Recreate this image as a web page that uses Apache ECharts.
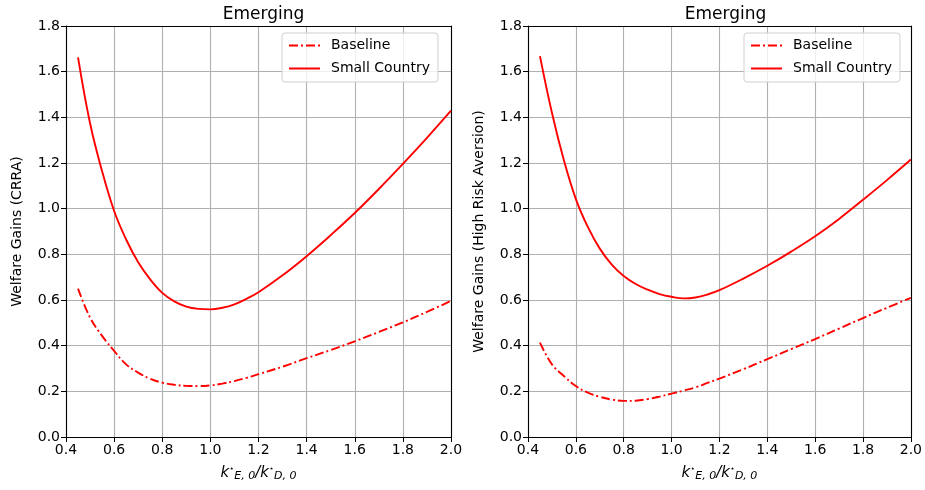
<!DOCTYPE html>
<html>
<head>
<meta charset="utf-8">
<script src="https://cdn.jsdelivr.net/npm/echarts@6/dist/echarts.min.js"></script>
<style>html,body{margin:0;padding:0;background:#fff}#c{width:925px;height:490px}</style>
</head>
<body>
<div id="c"></div>
<script>
// x values (k*_E,0 / k*_D,0)
const xVals = [0.45,0.5,0.55,0.6,0.65,0.7,0.75,0.8,0.85,0.9,0.95,1.0,1.05,1.1,1.15,1.2,1.3,1.4,1.5,1.6,1.7,1.8,1.9,2.0];
// Left panel (CRRA)
const crraBaseline = [0.65,0.523,0.443,0.377,0.318,0.282,0.255,0.238,0.229,0.224,0.223,0.226,0.234,0.245,0.259,0.275,0.308,0.345,0.381,0.419,0.46,0.502,0.548,0.596];
const crraSmall    = [1.663,1.374,1.164,0.99,0.865,0.765,0.69,0.631,0.594,0.571,0.561,0.559,0.566,0.581,0.605,0.634,0.708,0.792,0.884,0.981,1.086,1.196,1.31,1.429];
// Right panel (High Risk Aversion)
const hraBaseline = [0.413,0.318,0.267,0.223,0.194,0.176,0.164,0.158,0.159,0.166,0.177,0.19,0.203,0.217,0.237,0.256,0.297,0.341,0.385,0.429,0.475,0.521,0.566,0.609];
const hraSmall    = [1.668,1.42,1.212,1.042,0.92,0.825,0.755,0.705,0.67,0.645,0.626,0.614,0.607,0.611,0.624,0.643,0.694,0.75,0.812,0.879,0.955,1.039,1.125,1.215];
const xTicks = [0.4,0.6,0.8,1.0,1.2,1.4,1.6,1.8,2.0];
const yTicks = [0.0,0.2,0.4,0.6,0.8,1.0,1.2,1.4,1.6,1.8];
const panelTitles = ['Emerging','Emerging'];
const yNames = ['Welfare Gains (CRRA)','Welfare Gains (High Risk Aversion)'];
const seriesNames = ['Baseline','Small Country'];

const FONT = 'DejaVu Sans';
const pair = (xs, ys) => xs.map((x,i)=>[x, ys[i]]);
const grids = [
  {left:66, width:385, top:26, height:411},
  {left:528, width:385, top:26, height:411}
];
const xName = '{k|k}{st|⋆}{sb|E, 0}{k|/k}{st|⋆}{sb|D, 0}';
const xRich = {
  k:{fontFamily:FONT,fontSize:15,fontStyle:'italic',color:'#000'},
  st:{fontFamily:FONT,fontSize:8,color:'#000',verticalAlign:'top',padding:[0,0,8,0]},
  sb:{fontFamily:FONT,fontSize:11,fontStyle:'italic',color:'#000',verticalAlign:'bottom',padding:[6,0,0,0]}
};
const xAxes=[], yAxes=[], series=[], titles=[], legends=[];
const dataSets = [[crraBaseline, crraSmall],[hraBaseline, hraSmall]];
for (let g=0; g<2; g++){
  titles.push({text:panelTitles[g], left: grids[g].left + grids[g].width/2, top:1, textAlign:'center',
    textStyle:{fontFamily:FONT,fontSize:17,fontWeight:'normal',color:'#000'}});
  xAxes.push({type:'value', gridIndex:g, min:xTicks[0], max:xTicks[xTicks.length-1], interval:0.2, position:'bottom',
    name:xName, nameLocation:'middle', nameGap:28, nameTextStyle:{rich:xRich},
    axisLine:{show:true,onZero:false,lineStyle:{color:'#000',width:1.1}},
    axisTick:{show:true,length:5,lineStyle:{color:'#000',width:1}},
    axisLabel:{fontFamily:FONT,fontSize:14,color:'#000',margin:6,formatter:v=>v.toFixed(1)},
    splitLine:{show:true,lineStyle:{color:'#b0b0b0',width:1.1}}});
  xAxes.push({type:'value', gridIndex:g, min:xTicks[0], max:xTicks[xTicks.length-1], position:'top',
    axisLine:{show:true,onZero:false,lineStyle:{color:'#000',width:1.1}},
    axisTick:{show:false},axisLabel:{show:false},splitLine:{show:false}});
  yAxes.push({type:'value', gridIndex:g, min:yTicks[0], max:yTicks[yTicks.length-1], interval:0.2, position:'left',
    name:yNames[g], nameLocation:'middle', nameGap:42,
    nameTextStyle:{fontFamily:FONT,fontSize:14,color:'#000'},
    axisLine:{show:true,onZero:false,lineStyle:{color:'#000',width:1.1}},
    axisTick:{show:true,length:5,lineStyle:{color:'#000',width:1}},
    axisLabel:{fontFamily:FONT,fontSize:14,color:'#000',margin:6,formatter:v=>v.toFixed(1)},
    splitLine:{show:true,lineStyle:{color:'#b0b0b0',width:1.1}}});
  yAxes.push({type:'value', gridIndex:g, min:yTicks[0], max:yTicks[yTicks.length-1], position:'right',
    axisLine:{show:true,onZero:false,lineStyle:{color:'#000',width:1.1}},
    axisTick:{show:false},axisLabel:{show:false},splitLine:{show:false}});
  const [bl, sc] = dataSets[g];
  series.push({name:seriesNames[0], type:'line', xAxisIndex:2*g, yAxisIndex:2*g, data:pair(xVals,bl),
    showSymbol:false, symbol:'none', smooth:0.4, lineStyle:{color:'#ff0000',width:1.9,type:[9,3,2,3]},
    itemStyle:{color:'#ff0000'}, z:3});
  series.push({name:seriesNames[1], type:'line', xAxisIndex:2*g, yAxisIndex:2*g, data:pair(xVals,sc),
    showSymbol:false, symbol:'none', smooth:0.4, lineStyle:{color:'#ff0000',width:1.9,type:'solid'},
    itemStyle:{color:'#ff0000'}, z:3});
  legends.push({orient:'vertical', left: grids[g].left + 216, top:33, align:'left',
    data:seriesNames, itemWidth:31, itemHeight:14, itemGap:6, padding:[4,8,5,6],
    backgroundColor:'rgba(255,255,255,0.8)', borderColor:'#d0d0d0', borderWidth:1, borderRadius:3,
    itemStyle:{opacity:0},
    textStyle:{fontFamily:FONT,fontSize:14,color:'#000',lineHeight:17,padding:[0,0,0,6]},
    selectedMode:false});
}
const chart = echarts.init(document.getElementById('c'), null, {renderer:'canvas'});
chart.setOption({
  animation:false,
  backgroundColor:'#fff',
  title:titles,
  legend:legends,
  grid:grids,
  xAxis:xAxes,
  yAxis:yAxes,
  series:series
});
</script>
</body>
</html>
